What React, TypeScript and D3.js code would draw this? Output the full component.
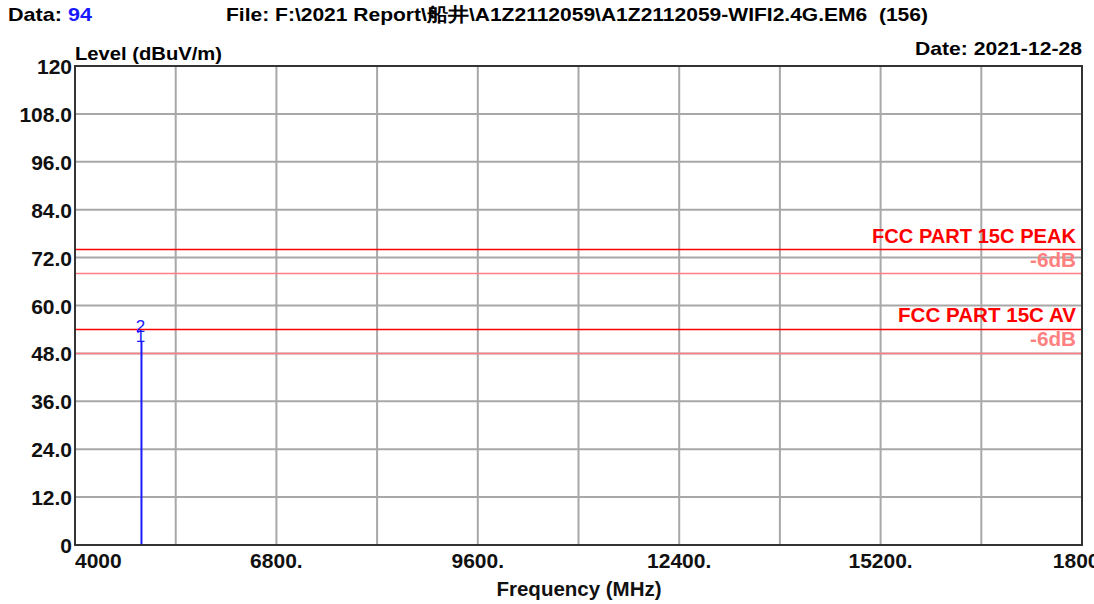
import * as d3 from 'd3';

// y axis ticks (dBuV/m) and x axis labels (MHz)
const yTicks = [0, 12, 24, 36, 48, 60, 72, 84, 96, 108, 120];
const yTickLabels = ['0', '12.0', '24.0', '36.0', '48.0', '60.0', '72.0', '84.0', '96.0', '108.0', '120'];
const xGrid = [4000, 5400, 6800, 8200, 9600, 11000, 12400, 13800, 15200, 16600, 18000];
const xLabelValues = [4000, 6800, 9600, 12400, 15200, 18000];
const xLabels = ['4000', '6800.', '9600.', '12400.', '15200.', '18000'];

// limit lines
const limitNames = ['FCC PART 15C PEAK', 'FCC PART 15C AV'];
const limitValues = [74, 54];
const marginValues = [68, 48];

// measured trace (vertical spike) and markers
const traceFreq = [4924, 4924];
const traceLevel = [0, 51];
const markerIds = ['1', '2'];
const markerFreq = [4924, 4924];
const markerLevel = [51, 53.6];

const W = 1094;
const H = 604;
const left = 75;
const right = 1082;
const top = 66;
const bottom = 545;
const font = '"Liberation Sans", Arial, sans-serif';

export default function App() {
    const x = d3.scaleLinear().domain([4000, 18000]).range([left, right]);
    const y = d3.scaleLinear().domain([0, 120]).range([bottom, top]);
    const line = d3.line<number>()
        .x((_d, i) => x(traceFreq[i]))
        .y(d => y(d));

    return (
        <svg width={W} height={H} style={{ position: 'absolute', left: 0, top: 0, background: '#fff' }}
            fontFamily={font} fontWeight="bold">
            {/* header */}
            <text x={8} y={21} fontSize={19} fill="#000" textLength={84} lengthAdjust="spacingAndGlyphs">
                Data: <tspan fill="#1a1aff">94</tspan>
            </text>
            <text x={226} y={21} fontSize={19} fill="#000" textLength={702} lengthAdjust="spacingAndGlyphs"
                style={{ whiteSpace: 'pre' }}>
                {'File: F:\\2021 Report\\船井\\A1Z2112059\\A1Z2112059-WIFI2.4G.EM6  (156)'}
            </text>
            <text x={left} y={60} fontSize={19} fill="#000" textLength={147} lengthAdjust="spacingAndGlyphs">Level (dBuV/m)</text>
            <text x={right} y={55} fontSize={19} fill="#000" textAnchor="end" textLength={167}
                lengthAdjust="spacingAndGlyphs">Date: 2021-12-28</text>

            {/* grid */}
            {yTicks.slice(1, -1).map(t => (
                <line key={'gy' + t} x1={left} x2={right} y1={y(t)} y2={y(t)} stroke="#a8a8a8" strokeWidth={2} />
            ))}
            {xGrid.slice(1, -1).map(t => (
                <line key={'gx' + t} x1={x(t)} x2={x(t)} y1={top} y2={bottom} stroke="#a8a8a8" strokeWidth={2} />
            ))}

            {/* limit lines */}
            {limitValues.map((v, i) => (
                <g key={'lim' + i}>
                    <line x1={left} x2={right} y1={y(v)} y2={y(v)} stroke="#ff0000" strokeWidth={1.5} />
                    <line x1={left} x2={right} y1={y(marginValues[i])} y2={y(marginValues[i])} stroke="#ff8080" strokeWidth={1.5} />
                    <text x={1076} y={y(v) - 7} fontSize={20} fill="#ff0000" textAnchor="end"
                        textLength={i === 0 ? 204 : 178} lengthAdjust="spacingAndGlyphs">{limitNames[i]}</text>
                    <text x={1076} y={y(v) + 17} fontSize={20} fill="#ff8080" textAnchor="end"
                        textLength={46} lengthAdjust="spacingAndGlyphs">-6dB</text>
                </g>
            ))}

            {/* trace */}
            <path d={line(traceLevel) ?? ''} fill="none" stroke="#1a1aff" strokeWidth={2} />
            {markerIds.map((m, i) => (
                <text key={'m' + m} x={x(markerFreq[i]) - 1} y={y(markerLevel[i]) + 1} fontSize={17} fontWeight="normal"
                    fill="#1a1aff" textAnchor="middle">{m}</text>
            ))}

            {/* frame */}
            <rect x={left} y={top} width={right - left} height={bottom - top} fill="none" stroke="#333" strokeWidth={2} />

            {/* y tick labels */}
            {yTicks.map((t, i) => (
                <text key={'yl' + t} x={72} y={y(t) + 8} fontSize={21} fill="#111"
                    textAnchor="end">{yTickLabels[i]}</text>
            ))}

            {/* x tick labels */}
            {xLabelValues.map((v, i) => (
                <text key={'xl' + v} x={i === 0 ? left : x(v)} y={568} fontSize={21} fill="#111"
                    textAnchor={i === 0 ? 'start' : 'middle'}>{xLabels[i]}</text>
            ))}
            <text x={579} y={596} fontSize={20} fill="#111" textAnchor="middle" textLength={165}
                lengthAdjust="spacingAndGlyphs">Frequency (MHz)</text>
        </svg>
    );
}
